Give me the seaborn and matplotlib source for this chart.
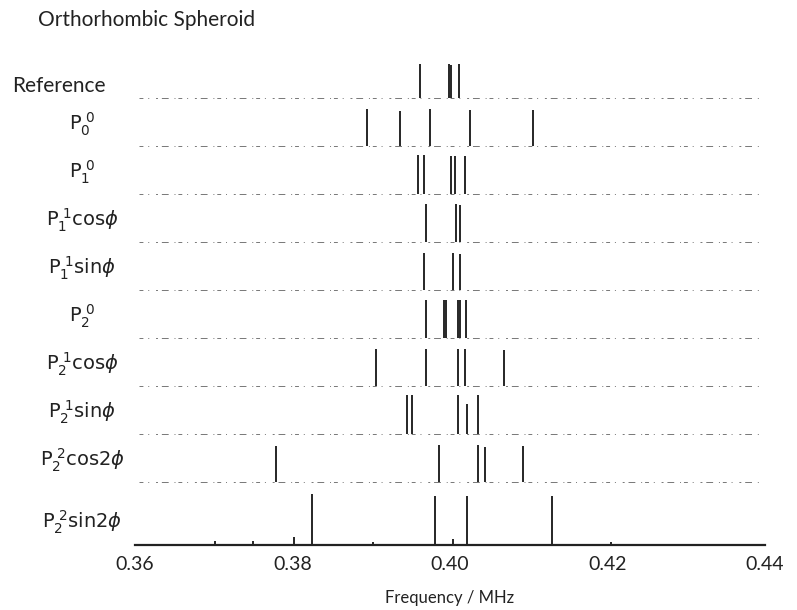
import matplotlib
matplotlib.use('Agg')
import matplotlib.pyplot as plt
import seaborn as sns
import pandas as pd

# stick spectra: peak frequencies (MHz) and relative heights per trace
row_labels = [
    'Reference',
    r'$\mathrm{P}_{0}^{\ 0}$',
    r'$\mathrm{P}_{1}^{\ 0}$',
    r'$\mathrm{P}_{1}^{\ 1}\mathrm{cos}\phi$',
    r'$\mathrm{P}_{1}^{\ 1}\mathrm{sin}\phi$',
    r'$\mathrm{P}_{2}^{\ 0}$',
    r'$\mathrm{P}_{2}^{\ 1}\mathrm{cos}\phi$',
    r'$\mathrm{P}_{2}^{\ 1}\mathrm{sin}\phi$',
    r'$\mathrm{P}_{2}^{\ 2}\mathrm{cos2}\phi$',
    r'$\mathrm{P}_{2}^{\ 2}\mathrm{sin2}\phi$',
]

ref_freq = [0.3962, 0.3999, 0.4001, 0.4011]
ref_int = [0.72, 0.72, 0.70, 0.72]
p00_freq = [0.3895, 0.3937, 0.3975, 0.4026, 0.4105]
p00_int = [0.78, 0.74, 0.78, 0.75, 0.75]
p10_freq = [0.3959, 0.3967, 0.4001, 0.4006, 0.4019]
p10_int = [0.82, 0.82, 0.80, 0.80, 0.80]
p11c_freq = [0.3970, 0.4007, 0.4013]
p11c_int = [0.80, 0.80, 0.78]
p11s_freq = [0.3967, 0.4004, 0.4013]
p11s_int = [0.77, 0.77, 0.75]
p20_freq = [0.3970, 0.3992, 0.3995, 0.4010, 0.4013, 0.4020]
p20_int = [0.80, 0.80, 0.80, 0.80, 0.80, 0.78]
p21c_freq = [0.3906, 0.3970, 0.4010, 0.4019, 0.4068]
p21c_int = [0.77, 0.77, 0.77, 0.77, 0.75]
p21s_freq = [0.3945, 0.3952, 0.4010, 0.4022, 0.4035]
p21s_int = [0.80, 0.80, 0.80, 0.62, 0.80]
p22c_freq = [0.3779, 0.3986, 0.4036, 0.4044, 0.4093]
p22c_int = [0.75, 0.77, 0.77, 0.72, 0.75]
p22s_freq = [0.3701, 0.3750, 0.3802, 0.3825, 0.3902, 0.3981, 0.4004, 0.4021, 0.4130, 0.4204]
p22s_int = [0.06, 0.06, 0.15, 1.04, 0.05, 1.00, 0.10, 1.00, 1.00, 0.05]

all_freq = [ref_freq, p00_freq, p10_freq, p11c_freq, p11s_freq,
            p20_freq, p21c_freq, p21s_freq, p22c_freq, p22s_freq]
all_int = [ref_int, p00_int, p10_int, p11c_int, p11s_int,
           p20_int, p21c_int, p21s_int, p22c_int, p22s_int]

x_ticks = [0.36, 0.38, 0.40, 0.42, 0.44]
x_tick_labels = ['0.36', '0.38', '0.40', '0.42', '0.44']

sns.set_theme(style='white')
plt.rcParams['font.family'] = ['Lato', 'DejaVu Sans']
plt.rcParams['mathtext.fontset'] = 'dejavusans'

n = len(row_labels)


def offset(i):
    # vertical stacking of the traces, bottom trace sits on the axis
    return 0.0 if i == n - 1 else (n - 1 - i) + 0.3


rows = []
for i, (fr, it) in enumerate(zip(all_freq, all_int)):
    for f, h in zip(fr, it):
        rows.append({'trace': i, 'freq': f, 'base': offset(i), 'top': offset(i) + h})
df = pd.DataFrame(rows)

fig = plt.figure(figsize=(7.97, 6.10), dpi=100)
ax = fig.add_axes([135 / 797, 1 - 545 / 610, 630 / 797, 490 / 610])

# noisy-looking baselines for the upper traces
for i in range(n - 1):
    ax.plot([0.3605, 0.4395], [offset(i), offset(i)], color='#777777', lw=0.7,
            dashes=(4, 5, 1, 7, 2, 4, 7, 6, 1, 3))

ax.vlines(df['freq'], df['base'], df['top'], color='#151515', lw=1.3)

ax.set_xlim(0.36, 0.44)
ax.set_ylim(-0.02, 10.2)
ax.set_yticks([])
ax.set_xticks(x_ticks)
ax.set_xticklabels(x_tick_labels, fontsize=14)
ax.tick_params(axis='x', length=0, pad=8, colors='#222222')
ax.set_xticks([0.36, 0.44], minor=True)
ax.tick_params(axis='x', which='minor', direction='in', length=7, width=1.3, color='#222222')
sns.despine(ax=ax, left=True, top=True, right=True)
ax.spines['bottom'].set_linewidth(1.6)
ax.spines['bottom'].set_color('#222222')
ax.set_xlabel('Frequency / MHz', fontsize=12, labelpad=12, color='#222222')

for i, lab in enumerate(row_labels):
    if i == 0:
        ax.annotate(lab, xy=(12 / 797, offset(i) + 0.25),
                    xycoords=('figure fraction', 'data'),
                    ha='left', va='center', fontsize=15, color='#222222')
    else:
        ax.annotate(lab, xy=(0, offset(i) + 0.45), xycoords=('axes fraction', 'data'),
                    xytext=(-38, 0), textcoords='offset points',
                    ha='center', va='center', fontsize=14, color='#222222')

fig.text(38 / 797, 1 - 20 / 610, 'Orthorhombic Spheroid', fontsize=15,
         ha='left', va='center', color='#222222')

fig.savefig('out.png', dpi=100)
